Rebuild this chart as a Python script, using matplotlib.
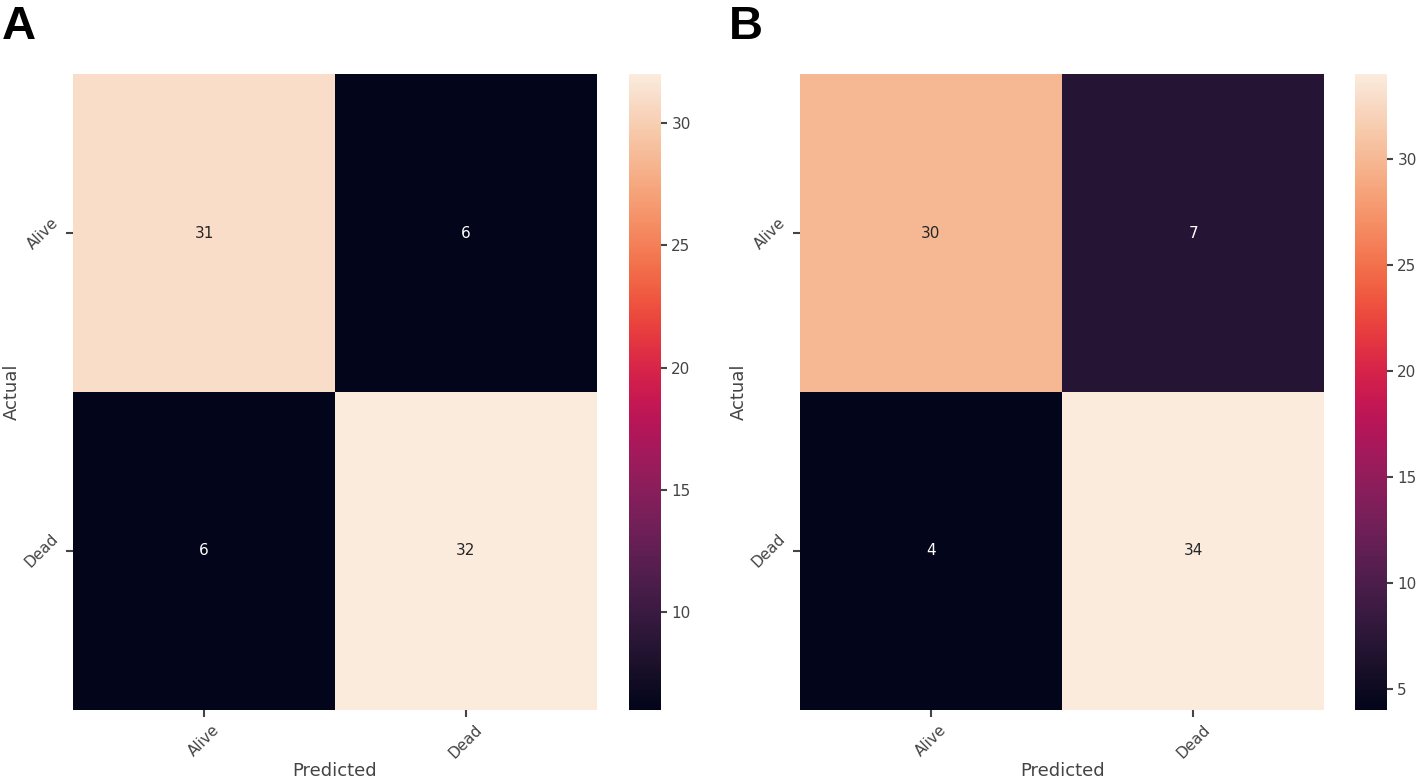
import matplotlib
matplotlib.use("Agg")
import matplotlib.pyplot as plt
import seaborn as sns
import numpy as np

labels = ["Alive", "Dead"]
cm_a = [[31, 6],
        [6, 32]]
cm_b = [[30, 7],
        [4, 34]]

fig = plt.figure(figsize=(14.18, 7.81), dpi=100)

text_color = "#444444"
plt.rcParams["font.family"] = ["DejaVu Sans"]

def draw_panel(cm, ax_rect, cax_rect, letter, letter_x):
    ax = fig.add_axes(ax_rect)
    cax = fig.add_axes(cax_rect)
    sns.heatmap(np.array(cm), annot=True, fmt="d", cmap="rocket", ax=ax, cbar_ax=cax,
                xticklabels=labels, yticklabels=labels, annot_kws={"fontsize": 11})
    ax.set_xlabel("Predicted", fontsize=13, color=text_color, labelpad=1)
    ax.set_ylabel("Actual", fontsize=13, color=text_color, labelpad=1)
    ax.tick_params(axis="both", colors=text_color, labelsize=11, length=5, width=1.5)
    plt.setp(ax.get_xticklabels(), rotation=45, ha="center")
    plt.setp(ax.get_yticklabels(), rotation=45, va="center")
    cax.tick_params(colors=text_color, labelsize=11, length=4, width=1.5)
    fig.text(letter_x, 0.993, letter, fontsize=34, fontweight="bold",
             family="Liberation Sans", va="top", ha="left")
    return ax

draw_panel(cm_a, [0.0515, 0.091, 0.3695, 0.814], [0.4436, 0.091, 0.0225, 0.814], "A", 0.001)
draw_panel(cm_b, [0.564, 0.091, 0.370, 0.814], [0.9556, 0.091, 0.0225, 0.814], "B", 0.514)

fig.savefig("out.png", dpi=100)
